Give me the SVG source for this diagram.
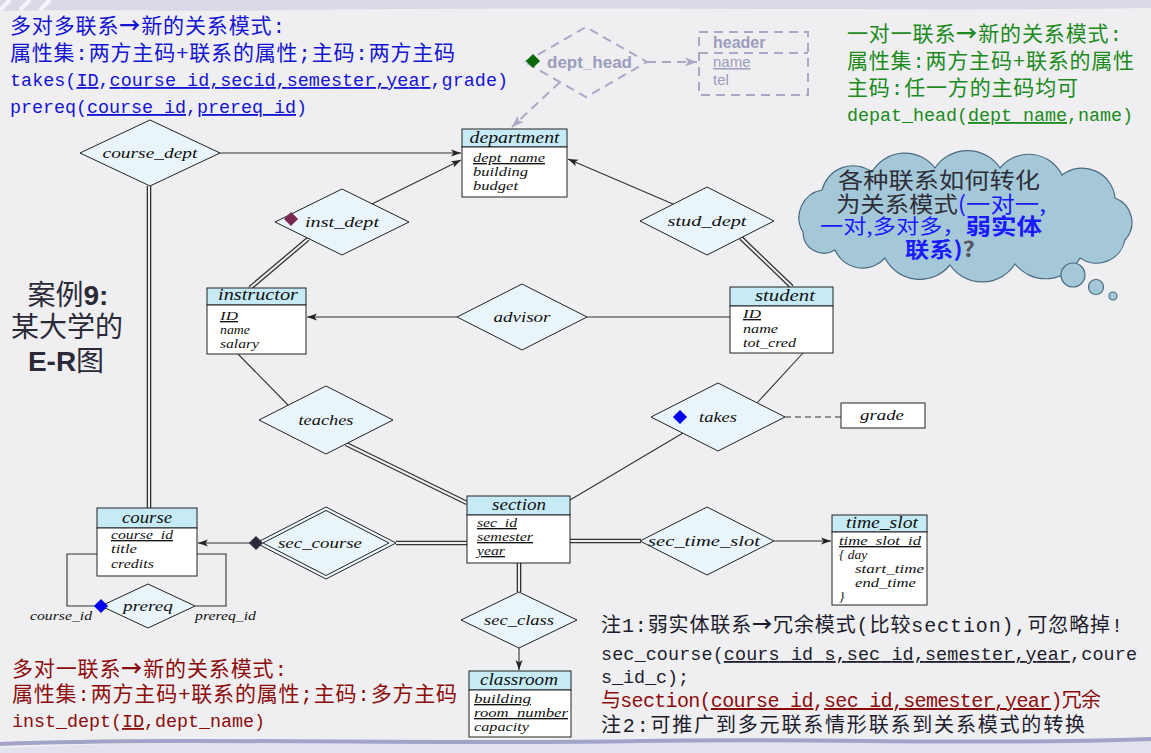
<svg xmlns="http://www.w3.org/2000/svg" width="1151" height="753" viewBox="0 0 1151 753">
<defs>
<style>
.er{font-family:"Liberation Serif","Times New Roman",serif;font-style:italic;fill:#111}
.th{font-size:16px}
.ta{font-size:13.5px}
.rl{font-size:15.5px}
.eh{fill:#c6ebf7;stroke:#222;stroke-width:1}
.eb{fill:#fff;stroke:#222;stroke-width:1}
.rel{fill:#eaf5fb;stroke:#222;stroke-width:1}
.ln{stroke:#333;stroke-width:1.1;fill:none}
.d1{stroke:#333;stroke-width:4.6;fill:none}
.d2{stroke:#eeeff1;stroke-width:2;fill:none}
.dash{stroke:#a9a9c6;stroke-width:2;stroke-dasharray:9 6;fill:none}
.cn{font-family:"Liberation Mono","Noto Sans CJK SC",monospace}
.u{text-decoration:underline}
.ar{font-family:"Noto Sans CJK SC",sans-serif;font-weight:bold}
.sans{font-family:"Noto Sans CJK SC",sans-serif}
</style>
<marker id="arr" viewBox="0 0 10 8" refX="10" refY="4" markerWidth="10" markerHeight="8" markerUnits="userSpaceOnUse" orient="auto"><path d="M0,0.5 L10,4 L0,7.5 L2.5,4 z" fill="#222"/></marker>
<marker id="garr" viewBox="0 0 12 10" refX="12" refY="5" markerWidth="12" markerHeight="10" markerUnits="userSpaceOnUse" orient="auto"><path d="M0,0.5 L12,5 L0,9.5 L3,5 z" fill="#a9a9c6"/></marker>
</defs>

<!-- background -->
<rect x="0" y="0" width="1151" height="753" fill="#efeff1"/>
<path d="M0,0 H1151 V8 C900,12 600,6 300,10 C180,12 80,9 0,11 Z" fill="#d9d9e8"/>
<path d="M10,0 L0,10 M30,0 L20,10 M50,0 L40,10" stroke="#f6f6fa" stroke-width="4"/>
<path d="M0,748 C200,738 420,746 640,742 C820,739 980,746 1151,740 V753 H0 Z" fill="#e2e2ee"/>
<path d="M0,744 C200,737 420,745 640,741 C820,738 980,745 1151,739" stroke="#a3a3ca" stroke-width="4" fill="none"/>

<!-- top-left notes -->
<g id="note-mm" class="cn" fill="#1414d2">
<text x="10" y="33" font-size="21" textLength="275">多对多联系<tspan class="ar">→</tspan>新的关系模式:</text>
<text x="10" y="60" font-size="21" textLength="445">属性集:两方主码+联系的属性;主码:两方主码</text>
<text x="10" y="86" font-size="18.4" textLength="498">takes(<tspan class="u">ID</tspan>,<tspan class="u">course_id,secid,semester,year</tspan>,grade)</text>
<text x="10" y="113" font-size="18.4" textLength="297">prereq(<tspan class="u">course_id</tspan>,<tspan class="u">prereq_id</tspan>)</text>
</g>

<!-- top-right notes -->
<g id="note-oo" class="cn" fill="#1c8a1c">
<text x="847" y="41" font-size="21" textLength="275">一对一联系<tspan class="ar">→</tspan>新的关系模式:</text>
<text x="847" y="68" font-size="21" textLength="287">属性集:两方主码+联系的属性</text>
<text x="847" y="95" font-size="21" textLength="231">主码:任一方的主码均可</text>
<text x="847" y="121" font-size="18.4" textLength="286">depat_head(<tspan class="u">dept_name</tspan>,name)</text>
</g>

<!-- bottom-left notes -->
<g id="note-mo" class="cn" fill="#8c0c0c">
<text x="12" y="676" font-size="21" textLength="275">多对一联系<tspan class="ar">→</tspan>新的关系模式:</text>
<text x="12" y="701" font-size="21" textLength="445">属性集:两方主码+联系的属性;主码:多方主码</text>
<text x="12" y="727" font-size="18.4" textLength="253">inst_dept(<tspan class="u">ID</tspan>,dept_name)</text>
</g>

<!-- bottom-right notes -->
<g id="note-weak" class="cn" fill="#1c1c2c">
<text x="601" y="632" font-size="20" textLength="522">注1:弱实体联系<tspan class="ar">→</tspan>冗余模式(比较section),可忽略掉!</text>
<text x="601" y="660" font-size="18.4" textLength="536">sec_course(<tspan class="u">cours_id_s,sec_id,semester,year</tspan>,coure</text>
<text x="601" y="683" font-size="18.4" textLength="88">s_id_c);</text>
<text x="601" y="707" font-size="20" textLength="500" fill="#8c0c0c">与section(<tspan class="u">course_id</tspan>,<tspan class="u">sec_id,semester,year</tspan>)冗余</text>
<text x="601" y="732" font-size="20" textLength="484">注2:可推广到多元联系情形联系到关系模式的转换</text>
</g>

<!-- case title -->
<g id="case-title" class="sans" fill="#2a2a38" font-size="28" text-anchor="middle">
<text x="68" y="305">案例<tspan font-weight="bold" font-family="Liberation Sans, sans-serif">9:</tspan></text>
<text x="67" y="337">某大学的</text>
<text x="66" y="371"><tspan font-weight="bold" font-family="Liberation Sans, sans-serif">E-R</tspan>图</text>
</g>

<!-- cloud -->
<g id="cloud">
<path d="M803,232 A28,28 0 0 1 822,190 A32,32 0 0 1 872,172 A38,38 0 0 1 935,168 A39,39 0 0 1 1000,168 A37,37 0 0 1 1062,175 A33,33 0 0 1 1115,198 A26,26 0 0 1 1125,240 A29,29 0 0 1 1080,258 A39,39 0 0 1 1015,264 A39,39 0 0 1 950,265 A39,39 0 0 1 885,258 A30,30 0 0 1 835,250 A21,21 0 0 1 803,232 Z" fill="#a4c8d8" stroke="#4a6a80" stroke-width="1.2"/>
<circle cx="1073" cy="275" r="12" fill="#a4c8d8" stroke="#4a6a80" stroke-width="1.2"/>
<circle cx="1096" cy="287" r="7.5" fill="#a4c8d8" stroke="#4a6a80" stroke-width="1.2"/>
<circle cx="1113" cy="296" r="4" fill="#a4c8d8" stroke="#4a6a80" stroke-width="1.2"/>
<text class="sans" x="838" y="188" font-size="22" fill="#2e2e38" textLength="202" lengthAdjust="spacingAndGlyphs">各种联系如何转化</text>
<text class="sans" x="836" y="212" font-size="22" fill="#2e2e38" textLength="210" lengthAdjust="spacingAndGlyphs">为关系模式<tspan fill="#1a1aff">(一对一,</tspan></text>
<text class="sans" x="820" y="234" font-size="20" fill="#1a1aff" textLength="222" lengthAdjust="spacingAndGlyphs">一对,多对多，<tspan font-weight="bold" font-size="22">弱实体</tspan></text>
<text class="sans" x="905" y="257" font-size="21" font-weight="bold" fill="#1a1aff" textLength="70" lengthAdjust="spacingAndGlyphs">联系)<tspan fill="#555566">?</tspan></text>
</g>

<!-- connectors -->
<g id="connectors">
<line class="ln" x1="220" y1="153" x2="461" y2="153" marker-end="url(#arr)"/>
<line class="ln" x1="372" y1="204" x2="461" y2="160" marker-end="url(#arr)"/>
<line class="ln" x1="673" y1="204" x2="568" y2="159" marker-end="url(#arr)"/>
<line class="d1" x1="308" y1="239" x2="250" y2="288"/><line class="d2" x1="308" y1="239" x2="250" y2="288"/>
<line class="d1" x1="741" y1="238" x2="792" y2="287"/><line class="d2" x1="741" y1="238" x2="792" y2="287"/>
<line class="ln" x1="457" y1="317" x2="307" y2="317" marker-end="url(#arr)"/>
<line class="ln" x1="587" y1="317" x2="730" y2="317"/>
<line class="ln" x1="238" y1="354" x2="288" y2="405"/>
<line class="d1" x1="346" y1="444" x2="467" y2="503"/><line class="d2" x1="346" y1="444" x2="467" y2="503"/>
<line class="ln" x1="803" y1="353" x2="757" y2="403"/>
<line class="ln" x1="570" y1="500" x2="683" y2="433"/>
<line x1="785" y1="417" x2="841" y2="417" stroke="#333" stroke-width="1.1" stroke-dasharray="6 4"/>
<line class="d1" x1="396" y1="543" x2="467" y2="543"/><line class="d2" x1="396" y1="543" x2="467" y2="543"/>
<line class="ln" x1="256" y1="543" x2="198" y2="543" marker-end="url(#arr)"/>
<line class="d1" x1="570" y1="541" x2="641" y2="541"/><line class="d2" x1="570" y1="541" x2="641" y2="541"/>
<line class="ln" x1="774" y1="541" x2="831" y2="541" marker-end="url(#arr)"/>
<line class="d1" x1="519" y1="563" x2="519" y2="592"/><line class="d2" x1="519" y1="563" x2="519" y2="592"/>
<line class="ln" x1="519" y1="648" x2="519" y2="670" marker-end="url(#arr)"/>
<line class="d1" x1="149" y1="186" x2="149" y2="508"/><line class="d2" x1="149" y1="186" x2="149" y2="508"/>
<polyline class="ln" points="97,554 67,554 67,606 101,606"/>
<polyline class="ln" points="197,554 226,554 226,606 195,606"/>
<line class="dash" x1="647" y1="62" x2="697" y2="62" marker-end="url(#garr)"/>
<line class="dash" x1="560" y1="82" x2="512" y2="127" marker-end="url(#garr)"/>
</g>

<!-- relationships -->
<g id="course_dept"><polygon class="rel" points="80,153 150,120 220,153 150,186"/><text class="er rl" x="150" y="158" text-anchor="middle" textLength="95" lengthAdjust="spacingAndGlyphs">course_dept</text></g>
<g id="inst_dept"><polygon class="rel" points="275,222 342,189 409,222 342,255"/><rect x="286" y="214" width="10" height="10" transform="rotate(45 291 219)" fill="#7a2a52"/><text class="er rl" x="342" y="227" text-anchor="middle" textLength="74" lengthAdjust="spacingAndGlyphs">inst_dept</text></g>
<g id="stud_dept"><polygon class="rel" points="640,221 707,187 774,221 707,255"/><text class="er rl" x="707" y="226" text-anchor="middle" textLength="79" lengthAdjust="spacingAndGlyphs">stud_dept</text></g>
<g id="advisor"><polygon class="rel" points="457,317 522,284 587,317 522,350"/><text class="er rl" x="522" y="322" text-anchor="middle" textLength="57" lengthAdjust="spacingAndGlyphs">advisor</text></g>
<g id="teaches"><polygon class="rel" points="259,420 326,386 393,420 326,454"/><text class="er rl" x="326" y="425" text-anchor="middle" textLength="55" lengthAdjust="spacingAndGlyphs">teaches</text></g>
<g id="takes"><polygon class="rel" points="651,417 718,383 785,417 718,451"/><rect x="675" y="412" width="10" height="10" transform="rotate(45 680 417)" fill="#0000ee"/><text class="er rl" x="718" y="422" text-anchor="middle" textLength="38" lengthAdjust="spacingAndGlyphs">takes</text></g>
<g id="sec_course"><polygon class="rel" points="256,543 326,507 396,543 326,579"/><polygon fill="none" stroke="#222" stroke-width="1" points="263,543 326,510.5 389,543 326,575.5"/><rect x="251" y="538" width="10" height="10" transform="rotate(45 256 543)" fill="#2a2a3a"/><text class="er rl" x="320" y="548" text-anchor="middle" textLength="84" lengthAdjust="spacingAndGlyphs">sec_course</text></g>
<g id="sec_time_slot"><polygon class="rel" points="640,541 707,507 774,541 707,575"/><text class="er rl" x="704" y="546" text-anchor="middle" textLength="112" lengthAdjust="spacingAndGlyphs">sec_time_slot</text></g>
<g id="sec_class"><polygon class="rel" points="461,620 519,592 577,620 519,648"/><text class="er rl" x="519" y="625" text-anchor="middle" textLength="70" lengthAdjust="spacingAndGlyphs">sec_class</text></g>
<g id="prereq"><polygon class="rel" points="101,606 148,584 195,606 148,628"/><rect x="96" y="601" width="10" height="10" transform="rotate(45 101 606)" fill="#0000ee"/><text class="er rl" x="148" y="611" text-anchor="middle" textLength="50" lengthAdjust="spacingAndGlyphs">prereq</text>
<text class="er ta" x="30" y="620" textLength="62" lengthAdjust="spacingAndGlyphs">course_id</text><text class="er ta" x="195" y="620" textLength="61" lengthAdjust="spacingAndGlyphs">prereq_id</text></g>

<!-- dept_head (dashed, faded) -->
<g id="dept_head"><polygon points="525,62 586,27 647,62 586,97" fill="none" class="dash"/><rect x="528" y="56" width="10" height="10" transform="rotate(45 533 61)" fill="#0a6a0a"/><text x="547" y="68" font-family="Liberation Sans, sans-serif" font-weight="bold" font-size="17" fill="#9c9cbc" textLength="85" lengthAdjust="spacingAndGlyphs">dept_head</text></g>
<g id="header"><rect x="699" y="32" width="109" height="63" fill="none" class="dash"/><line class="dash" x1="699" y1="53" x2="808" y2="53"/>
<text x="713" y="48" font-family="Liberation Sans, sans-serif" font-weight="bold" font-size="16" fill="#9c9cbc">header</text>
<text x="713" y="67" font-family="Liberation Sans, sans-serif" font-size="15" fill="#9c9cbc" class="u">name</text>
<text x="713" y="85" font-family="Liberation Sans, sans-serif" font-size="15" fill="#9c9cbc">tel</text></g>

<!-- entities -->
<g id="department"><rect class="eh" x="462" y="129" width="105" height="18"/><rect class="eb" x="462" y="147" width="105" height="50"/>
<text class="er th" x="514.5" y="143" text-anchor="middle" textLength="90" lengthAdjust="spacingAndGlyphs">department</text>
<text class="er ta u" x="473" y="162" textLength="72" lengthAdjust="spacingAndGlyphs">dept_name</text>
<text class="er ta" x="473" y="176" textLength="55" lengthAdjust="spacingAndGlyphs">building</text>
<text class="er ta" x="473" y="190" textLength="45" lengthAdjust="spacingAndGlyphs">budget</text></g>

<g id="instructor"><rect class="eh" x="207" y="288" width="99" height="17"/><rect class="eb" x="207" y="305" width="99" height="49"/>
<text class="er th" x="258" y="300" text-anchor="middle" textLength="80" lengthAdjust="spacingAndGlyphs">instructor</text>
<text class="er ta u" x="220" y="320" textLength="18" lengthAdjust="spacingAndGlyphs">ID</text>
<text class="er ta" x="220" y="334" textLength="30" lengthAdjust="spacingAndGlyphs">name</text>
<text class="er ta" x="220" y="348" textLength="39" lengthAdjust="spacingAndGlyphs">salary</text></g>

<g id="student"><rect class="eh" x="730" y="287" width="103" height="19"/><rect class="eb" x="730" y="306" width="103" height="47"/>
<text class="er th" x="785" y="301" text-anchor="middle" textLength="60" lengthAdjust="spacingAndGlyphs">student</text>
<text class="er ta u" x="743" y="318" textLength="18" lengthAdjust="spacingAndGlyphs">ID</text>
<text class="er ta" x="743" y="333" textLength="35" lengthAdjust="spacingAndGlyphs">name</text>
<text class="er ta" x="743" y="347" textLength="53" lengthAdjust="spacingAndGlyphs">tot_cred</text></g>

<g id="grade"><rect class="eb" x="841" y="403" width="84" height="25"/><text class="er rl" x="882" y="420" text-anchor="middle" textLength="44" lengthAdjust="spacingAndGlyphs">grade</text></g>

<g id="section"><rect class="eh" x="467" y="496" width="103" height="19"/><rect class="eb" x="467" y="515" width="103" height="48"/>
<text class="er th" x="519" y="510" text-anchor="middle" textLength="54" lengthAdjust="spacingAndGlyphs">section</text>
<text class="er ta u" x="477" y="527" textLength="40" lengthAdjust="spacingAndGlyphs">sec_id</text>
<text class="er ta u" x="477" y="541" textLength="56" lengthAdjust="spacingAndGlyphs">semester</text>
<text class="er ta u" x="477" y="555" textLength="28" lengthAdjust="spacingAndGlyphs">year</text></g>

<g id="course"><rect class="eh" x="97" y="508" width="100" height="20"/><rect class="eb" x="97" y="528" width="100" height="48"/>
<text class="er th" x="147" y="523" text-anchor="middle" textLength="50" lengthAdjust="spacingAndGlyphs">course</text>
<text class="er ta u" x="111" y="539" textLength="62" lengthAdjust="spacingAndGlyphs">course_id</text>
<text class="er ta" x="111" y="553" textLength="26" lengthAdjust="spacingAndGlyphs">title</text>
<text class="er ta" x="111" y="568" textLength="43" lengthAdjust="spacingAndGlyphs">credits</text></g>

<g id="time_slot"><rect class="eh" x="832" y="515" width="95" height="17"/><rect class="eb" x="832" y="532" width="95" height="73"/>
<text class="er th" x="882" y="528" text-anchor="middle" textLength="72" lengthAdjust="spacingAndGlyphs">time_slot</text>
<text class="er ta u" x="839" y="545" textLength="82" lengthAdjust="spacingAndGlyphs">time_slot_id</text>
<text class="er ta" x="839" y="559">{  day</text>
<text class="er ta" x="855" y="573" textLength="69" lengthAdjust="spacingAndGlyphs">start_time</text>
<text class="er ta" x="855" y="587" textLength="61" lengthAdjust="spacingAndGlyphs">end_time</text>
<text class="er ta" x="839" y="601">}</text></g>

<g id="classroom"><rect class="eh" x="469" y="671" width="102" height="19"/><rect class="eb" x="469" y="690" width="102" height="47"/>
<text class="er th" x="519" y="685" text-anchor="middle" textLength="78" lengthAdjust="spacingAndGlyphs">classroom</text>
<text class="er ta u" x="474" y="703" textLength="57" lengthAdjust="spacingAndGlyphs">building</text>
<text class="er ta u" x="474" y="717" textLength="94" lengthAdjust="spacingAndGlyphs">room_number</text>
<text class="er ta" x="474" y="731" textLength="55" lengthAdjust="spacingAndGlyphs">capacity</text></g>
</svg>
